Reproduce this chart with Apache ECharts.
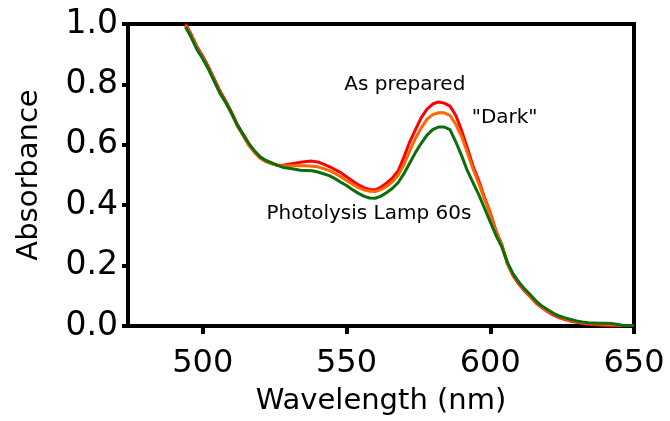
<!DOCTYPE html>
<html>
<head>
<meta charset="utf-8">
<script src="https://cdn.jsdelivr.net/npm/echarts@6/dist/echarts.min.js"></script>
<style>
  html, body { margin: 0; padding: 0; background: #fff; }
  #main { width: 670px; height: 421px; }
</style>
</head>
<body>
<div id="main"></div>
<script>
// wavelengths (nm), 2 nm steps
var wavelengths = [494,496,498,500,502,504,506,508,510,512,514,516,518,520,522,524,526,528,530,532,534,536,538,540,542,544,546,548,550,552,554,556,558,560,562,564,566,568,570,572,574,576,578,580,582,584,586,588,590,592,594,596,598,600,602,604,606,608,610,612,614,616,618,620,622,624,626,628,630,632,634,636,638,640,642,644,646,648,650];

var asPrepared = [1.0,0.965,0.925,0.893,0.858,0.818,0.778,0.745,0.708,0.668,0.636,0.603,0.577,0.557,0.545,0.538,0.532,0.532,0.536,0.539,0.542,0.545,0.546,0.543,0.536,0.528,0.518,0.508,0.494,0.481,0.468,0.458,0.452,0.451,0.46,0.474,0.49,0.514,0.56,0.61,0.65,0.69,0.718,0.735,0.742,0.738,0.728,0.698,0.648,0.59,0.53,0.482,0.425,0.375,0.315,0.27,0.205,0.165,0.138,0.115,0.096,0.075,0.06,0.047,0.036,0.028,0.021,0.016,0.012,0.009,0.006,0.004,0.003,0.002,0.001,0.001,0.001,0.002,0.002];

var dark = [0.995,0.96,0.92,0.888,0.853,0.813,0.772,0.74,0.703,0.663,0.63,0.598,0.574,0.555,0.544,0.537,0.532,0.53,0.531,0.531,0.531,0.531,0.529,0.527,0.521,0.515,0.505,0.494,0.482,0.47,0.459,0.451,0.446,0.445,0.452,0.462,0.478,0.5,0.535,0.58,0.622,0.656,0.685,0.7,0.706,0.706,0.697,0.668,0.628,0.575,0.52,0.472,0.42,0.37,0.31,0.268,0.207,0.168,0.141,0.118,0.099,0.078,0.063,0.05,0.039,0.031,0.024,0.019,0.015,0.011,0.009,0.008,0.007,0.006,0.005,0.004,0.002,0.002,0.002];

var photolysis = [0.99,0.955,0.915,0.885,0.85,0.81,0.77,0.74,0.705,0.665,0.635,0.605,0.58,0.56,0.548,0.54,0.532,0.525,0.522,0.519,0.516,0.515,0.514,0.51,0.504,0.498,0.488,0.476,0.465,0.452,0.44,0.43,0.424,0.423,0.43,0.442,0.456,0.475,0.505,0.54,0.575,0.605,0.632,0.65,0.659,0.659,0.65,0.61,0.565,0.515,0.475,0.435,0.39,0.345,0.3,0.262,0.21,0.172,0.145,0.122,0.103,0.082,0.066,0.054,0.042,0.033,0.027,0.022,0.017,0.013,0.011,0.01,0.009,0.009,0.008,0.006,0.002,0.002,0.002];

var xTicks = [500, 550, 600, 650];

function pairs(ys) {
  return wavelengths.map(function (w, i) { return [w, ys[i]]; });
}

var font = 'DejaVu Sans';

function note(text, coord) {
  return {
    silent: true,
    symbol: 'circle',
    symbolSize: 0,
    label: { show: true, position: 'inside', formatter: text, color: '#000', fontSize: 20, fontFamily: font },
    data: [{ coord: coord }]
  };
}

var myChart = echarts.init(document.getElementById('main'));
var option = {
  animation: false,
  backgroundColor: '#fff',
  grid: {
    left: 128, top: 24, width: 506, height: 304,
    show: true, borderColor: '#000', borderWidth: 4, backgroundColor: 'transparent'
  },
  xAxis: {
    type: 'value',
    min: 474,
    max: 650,
    name: 'Wavelength (nm)',
    nameLocation: 'middle',
    nameGap: 61,
    nameTextStyle: { color: '#000', fontSize: 29, fontFamily: font },
    axisLine: { lineStyle: { color: '#000', width: 4 } },
    axisTick: { customValues: xTicks, length: 8, lineStyle: { width: 4, color: '#000' } },
    axisLabel: { customValues: xTicks, color: '#000', fontSize: 32, fontFamily: font, margin: 22 },
    splitLine: { show: false }
  },
  yAxis: {
    type: 'value',
    min: 0,
    max: 1,
    interval: 0.2,
    name: 'Absorbance',
    nameLocation: 'middle',
    nameGap: 84,
    nameTextStyle: { color: '#000', fontSize: 29, fontFamily: font },
    axisLine: { lineStyle: { color: '#000', width: 4 } },
    axisTick: { length: 6, lineStyle: { width: 4, color: '#000' } },
    axisLabel: {
      color: '#000', fontSize: 33, fontFamily: font, margin: 10,
      formatter: function (v) { return v.toFixed(1); }
    },
    splitLine: { show: false }
  },
  series: [
    {
      name: 'As prepared', type: 'line', data: pairs(asPrepared), showSymbol: false,
      lineStyle: { color: '#ff0000', width: 3 },
      markPoint: note('As prepared', [570.3, 0.80])
    },
    {
      name: '"Dark"', type: 'line', data: pairs(dark), showSymbol: false,
      lineStyle: { color: '#ff6600', width: 3 },
      markPoint: note('"Dark"', [605, 0.69])
    },
    {
      name: 'Photolysis Lamp 60s', type: 'line', data: pairs(photolysis), showSymbol: false,
      lineStyle: { color: '#0b6e0b', width: 3 },
      markPoint: note('Photolysis Lamp 60s', [557.8, 0.372])
    }
  ]
};
myChart.setOption(option);
</script>
</body>
</html>
